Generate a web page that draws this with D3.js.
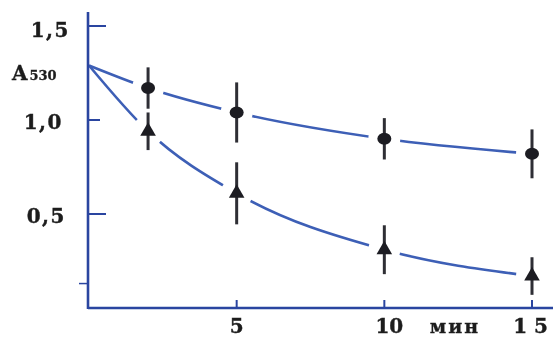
<!DOCTYPE html>
<html>
<head>
<meta charset="utf-8">
<script src="https://cdn.jsdelivr.net/npm/d3@7"></script>
<style>
  html, body { margin: 0; padding: 0; background: #ffffff; }
  svg { display: block; }
</style>
</head>
<body>
<svg id="chart" width="553" height="338"></svg>
<script>
// Time points, min
const times = [0, 2, 5, 10, 15];
// Series with round markers (absorbance at 530 nm)
const circleValues = [1.29, 1.17, 1.04, 0.90, 0.82];
const circleErrors = [null, 0.11, 0.16, 0.11, 0.13];
// Series with triangle markers
const triangleValues = [1.29, 0.94, 0.61, 0.31, 0.17];
const triangleErrors = [null, 0.10, 0.165, 0.13, 0.10];
// Axis ticks and labels
const yTicks = [0.5, 1.0, 1.5];
const yTickLabels = ["0,5", "1,0", "1,5"];
const yMinorTicks = [0.13];
const xTicks = [5, 10, 15];
const xTickLabels = ["5", "10", "1 5"];
const xUnit = "мин";
const yTitle = "A";
const yTitleSub = "530";

const svg = d3.select("#chart");
const axisColor = "#2b45a0";
const lineColor = "#3d5fb6";
const markColor = "#1c1c22";
const textColor = "#1f1f1f";

const x = d3.scaleLinear().domain([0, 15]).range([89, 532]);
const y = d3.scaleLinear().domain([0, 1.5]).range([308, 26]);

const defs = svg.append("defs");
defs.append("filter").attr("id", "soft")
  .append("feGaussianBlur").attr("stdDeviation", 0.45);

const g = svg.append("g").attr("filter", "url(#soft)");

// Curves
const line = d3.line()
  .x((d, i) => x(times[i]))
  .y(d => y(d))
  .curve(d3.curveMonotoneX);

g.append("path").datum(circleValues)
  .attr("d", line).attr("fill", "none")
  .attr("stroke", lineColor).attr("stroke-width", 2.6);
g.append("path").datum(triangleValues)
  .attr("d", line).attr("fill", "none")
  .attr("stroke", lineColor).attr("stroke-width", 2.6);

// Blank space around each measured point, so the curves break at the markers
const measured = (vals, errs) => vals.map((v, i) => ({ t: times[i], v, e: errs[i] })).filter(d => d.e !== null);
const circles = measured(circleValues, circleErrors);
const triangles = measured(triangleValues, triangleErrors);

g.append("g").selectAll("circle")
  .data(circles.concat(triangles))
  .join("circle")
  .attr("cx", d => x(d.t)).attr("cy", d => y(d.v))
  .attr("r", 16).attr("fill", "#ffffff");

// Axes
const axisG = g.append("g");
axisG.append("line")
  .attr("x1", x(0) - 1).attr("x2", 553)
  .attr("y1", y(0)).attr("y2", y(0))
  .attr("stroke", axisColor).attr("stroke-width", 2.6);
axisG.append("line")
  .attr("x1", x(0) - 1).attr("x2", x(0) - 1)
  .attr("y1", 12).attr("y2", y(0) + 1)
  .attr("stroke", axisColor).attr("stroke-width", 2.6);

axisG.selectAll(".ytick").data(yTicks).join("line")
  .attr("class", "ytick")
  .attr("x1", x(0)).attr("x2", (d, i) => x(0) + (i === 1 ? 11 : 17))
  .attr("y1", d => y(d)).attr("y2", d => y(d))
  .attr("stroke", axisColor).attr("stroke-width", 2);
axisG.selectAll(".ymtick").data(yMinorTicks).join("line")
  .attr("class", "ymtick")
  .attr("x1", x(0) - 10).attr("x2", x(0))
  .attr("y1", d => y(d)).attr("y2", d => y(d))
  .attr("stroke", axisColor).attr("stroke-width", 1.5);
axisG.selectAll(".xtick").data(xTicks).join("line")
  .attr("class", "xtick")
  .attr("x1", d => x(d)).attr("x2", d => x(d))
  .attr("y1", y(0)).attr("y2", y(0) - 8)
  .attr("stroke", axisColor).attr("stroke-width", 2);

// Labels
const labelFont = "'DejaVu Serif', 'Liberation Serif', serif";
g.append("g").selectAll("text").data(yTicks).join("text")
  .attr("x", d => d === 1.5 ? 70 : (d === 1 ? 63 : 66))
  .attr("y", d => y(d) + (d === 1.5 ? 11 : 9))
  .attr("text-anchor", "end")
  .attr("font-family", labelFont).attr("font-weight", "bold")
  .attr("font-size", 20).attr("letter-spacing", 1.5)
  .attr("stroke", textColor).attr("stroke-width", 0.4)
  .attr("fill", textColor)
  .text((d, i) => yTickLabels[i]);

const yt = g.append("text")
  .attr("x", 12).attr("y", 80)
  .attr("font-family", labelFont).attr("font-weight", "bold")
  .attr("stroke", textColor).attr("stroke-width", 0.3)
  .attr("fill", textColor);
yt.append("tspan").attr("font-size", 20).text(yTitle);
yt.append("tspan").attr("font-size", 13).attr("dx", 2).text(yTitleSub);

g.append("g").selectAll("text").data(xTicks).join("text")
  .attr("x", (d, i) => i === 2 ? x(d) + 16 : x(d) + (i === 1 ? 5 : 0))
  .attr("y", 333)
  .attr("text-anchor", (d, i) => i === 2 ? "end" : "middle")
  .attr("font-family", labelFont).attr("font-weight", "bold")
  .attr("font-size", 20)
  .attr("stroke", textColor).attr("stroke-width", 0.4)
  .attr("fill", textColor)
  .text((d, i) => xTickLabels[i]);

g.append("text")
  .attr("x", 455).attr("y", 333)
  .attr("text-anchor", "middle")
  .attr("font-family", labelFont).attr("font-weight", "bold")
  .attr("font-size", 19).attr("letter-spacing", 2)
  .attr("stroke", textColor).attr("stroke-width", 0.3)
  .attr("fill", textColor)
  .text(xUnit);

// Error bars
const bars = g.append("g");
bars.selectAll("line").data(circles.concat(triangles)).join("line")
  .attr("x1", d => x(d.t)).attr("x2", d => x(d.t))
  .attr("y1", d => y(d.v + d.e)).attr("y2", d => y(d.v - d.e))
  .attr("stroke", "#2e2e34").attr("stroke-width", 3);

// Markers
g.append("g").selectAll("ellipse").data(circles).join("ellipse")
  .attr("cx", d => x(d.t)).attr("cy", d => y(d.v))
  .attr("rx", 7).attr("ry", 6)
  .attr("fill", markColor);

const tri = d3.symbol().type(d3.symbolTriangle).size(105);
g.append("g").selectAll("path").data(triangles).join("path")
  .attr("transform", d => `translate(${x(d.t)},${y(d.v)})`)
  .attr("d", tri)
  .attr("fill", markColor);
</script>
</body>
</html>
